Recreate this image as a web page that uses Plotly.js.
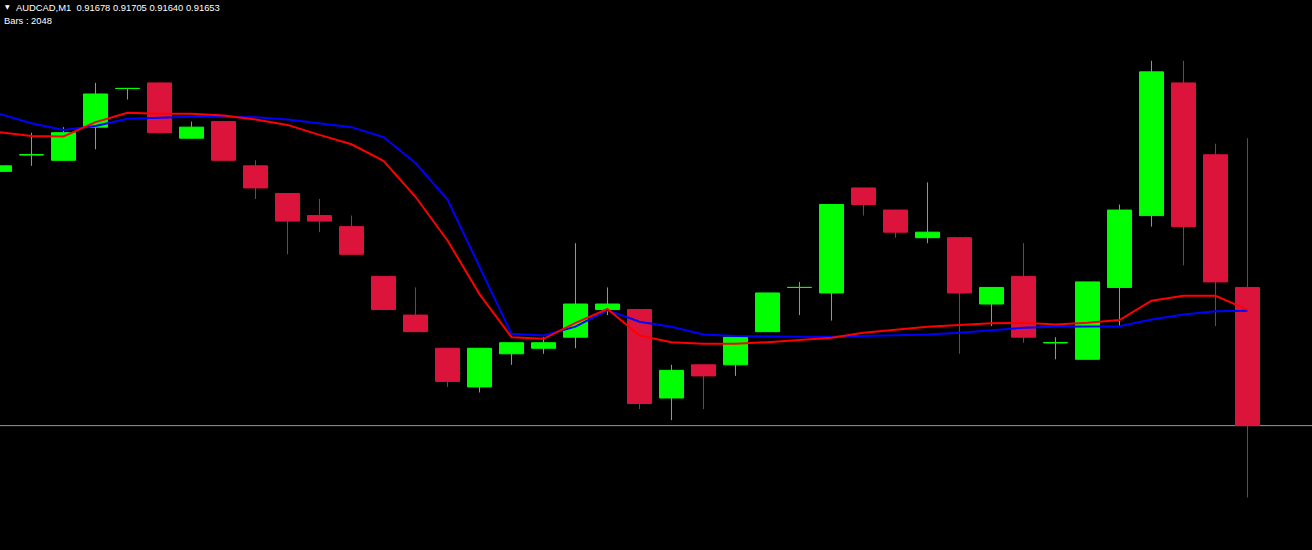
<!DOCTYPE html>
<html>
<head>
<meta charset="utf-8">
<script src="https://cdn.plot.ly/plotly-3.0.1.min.js"></script>
<style>
html,body{margin:0;padding:0;background:#000;overflow:hidden}
#chart{width:1312px;height:550px}
</style>
</head>
<body>
<div id="chart"></div>
<script>
// ---- data (AUDCAD, M1) ----
const symbol = 'AUDCAD,M1';
const barsTotal = 2048;
const barIndex = [-1,0,1,2,3,4,5,6,7,8,9,10,11,12,13,14,15,16,17,18,19,20,21,22,23,24,25,26,27,28,29,30,31,32,33,34,35,36,37,38];
const openP  = [0.91699,0.91702,0.91701,0.91707,0.91714,0.91715,0.91705,0.91708,0.91700,0.91695,0.91691,0.91689,0.91680,0.91673,0.91667,0.91660,0.91666,0.91667,0.91669,0.91674,0.91674,0.91658,0.91664,0.91664,0.91670,0.91678,0.91677,0.91696,0.91692,0.91687,0.91687,0.91675,0.91680,0.91668,0.91665,0.91678,0.91691,0.91715,0.91702,0.91678];
const highP  = [0.91700,0.91706,0.91707,0.91715,0.91714,0.91715,0.91708,0.91708,0.91701,0.91695,0.91694,0.91691,0.91680,0.91678,0.91667,0.91667,0.91668,0.91669,0.91686,0.91678,0.91674,0.91664,0.91664,0.91669,0.91677,0.91679,0.91693,0.91696,0.91692,0.91697,0.91687,0.91678,0.91686,0.91669,0.91679,0.91693,0.91719,0.91719,0.91704,0.91705];
const lowP   = [0.91699,0.91700,0.91701,0.91703,0.91712,0.91706,0.91705,0.91701,0.91694,0.91684,0.91688,0.91684,0.91674,0.91670,0.91660,0.91659,0.91664,0.91666,0.91667,0.91673,0.91656,0.91654,0.91656,0.91662,0.91670,0.91673,0.91672,0.91691,0.91687,0.91686,0.91666,0.91671,0.91668,0.91665,0.91665,0.91671,0.91689,0.91682,0.91671,0.91640];
const closeP = [0.91700,0.91702,0.91706,0.91713,0.91714,0.91706,0.91707,0.91701,0.91696,0.91690,0.91690,0.91684,0.91674,0.91670,0.91661,0.91667,0.91668,0.91668,0.91675,0.91675,0.91657,0.91663,0.91662,0.91669,0.91677,0.91678,0.91693,0.91693,0.91688,0.91688,0.91677,0.91678,0.91669,0.91668,0.91679,0.91692,0.91717,0.91689,0.91679,0.91653];
const maFast = [0.917061,0.917054,0.917053,0.917079,0.917096,0.917094,0.917094,0.917091,0.917084,0.917074,0.917056,0.917039,0.917009,0.916944,0.916865,0.916768,0.916690,0.916687,0.916716,0.916741,0.916693,0.916681,0.916678,0.916678,0.916681,0.916685,0.916689,0.916698,0.916703,0.916709,0.916712,0.916715,0.916716,0.916713,0.916716,0.916721,0.916756,0.916765,0.916765,0.916740];
const maSlow = [0.917094,0.917077,0.917065,0.917072,0.917085,0.917087,0.917089,0.917089,0.917088,0.917084,0.917077,0.917070,0.917052,0.917005,0.916939,0.916818,0.916696,0.916693,0.916709,0.916739,0.916718,0.916709,0.916695,0.916692,0.916691,0.916691,0.916691,0.916692,0.916694,0.916695,0.916698,0.916703,0.916707,0.916709,0.916709,0.916710,0.916722,0.916731,0.916737,0.916738];

// ---- build ----
const last = closeP.length - 1;
const bidPrice = closeP[last];
const fmt = v => v.toFixed(5);
const headerText = symbol + '  ' + fmt(openP[last]) + ' ' + fmt(highP[last]) + ' ' + fmt(lowP[last]) + ' ' + fmt(closeP[last]);

function subset(pred) {
  const o = {x:[], open:[], high:[], low:[], close:[]};
  barIndex.forEach((x, i) => {
    if (pred(i)) {
      o.x.push(x); o.open.push(openP[i]); o.high.push(highP[i]);
      o.low.push(lowP[i]); o.close.push(closeP[i]);
    }
  });
  return o;
}
const bull = subset(i => closeP[i] >= openP[i]);
const bear = subset(i => closeP[i] < openP[i]);
const UP = '#00FF00', DOWN = '#DC143C';

function candle(d, col) {
  return {
    type: 'candlestick', x: d.x, open: d.open, high: d.high, low: d.low, close: d.close,
    increasing: {line: {color: col, width: 1}, fillcolor: col},
    decreasing: {line: {color: col, width: 1}, fillcolor: col},
    whiskerwidth: 0, hoverinfo: 'skip', showlegend: false
  };
}

const traces = [
  candle(bull, UP),
  candle(bear, DOWN),
  {type:'scatter', mode:'lines', x: barIndex, y: maSlow, line:{color:'#0000FF', width:2}, hoverinfo:'skip', showlegend:false},
  {type:'scatter', mode:'lines', x: barIndex, y: maFast, line:{color:'#FF0000', width:2}, hoverinfo:'skip', showlegend:false}
];

const font = {family: 'Liberation Sans, Arial, sans-serif', size: 9.4, color: '#FFFFFF'};
const layout = {
  width: 1312, height: 550,
  margin: {l:0, r:0, t:0, b:0, pad:0},
  paper_bgcolor: '#000000', plot_bgcolor: '#000000',
  showlegend: false, hovermode: false,
  boxgap: 0.25, boxgroupgap: 0,
  xaxis: {range: [-0.984, 40.016], visible: false, showgrid: false, zeroline: false, rangeslider: {visible: false}, fixedrange: true},
  yaxis: {range: [0.916305, 0.917300], visible: false, showgrid: false, zeroline: false, fixedrange: true},
  shapes: [
    {type:'line', xref:'paper', x0:0, x1:1, yref:'y', y0:bidPrice, y1:bidPrice, line:{color:'#8C96A4', width:1}, layer:'below'}
  ],
  annotations: [
    {xref:'paper', yref:'paper', x: 3/1312, y: 1 - 7/550, xanchor:'left', yanchor:'middle', text:'▼', showarrow:false, font:{family:'DejaVu Sans', size:6, color:'#FFFFFF'}},
    {xref:'paper', yref:'paper', x: 14/1312, y: 1 - 7.5/550, xanchor:'left', yanchor:'middle', text: headerText, showarrow:false, font: font},
    {xref:'paper', yref:'paper', x: 2/1312, y: 1 - 20.5/550, xanchor:'left', yanchor:'middle', text: 'Bars : ' + barsTotal, showarrow:false, font: font}
  ]
};

Plotly.newPlot('chart', traces, layout, {staticPlot: true, displayModeBar: false});
</script>
</body>
</html>
